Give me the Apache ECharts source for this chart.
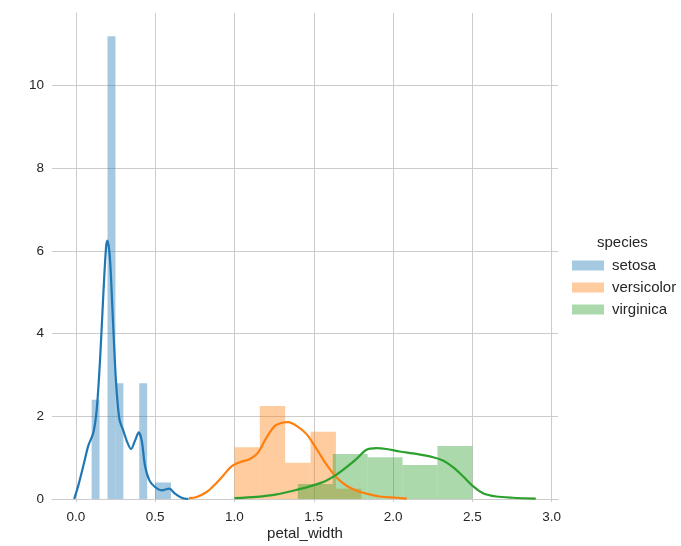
<!DOCTYPE html>
<html lang="en">
<head>
    <meta charset="UTF-8">
    <title>petal_width by species</title>
    <script src="https://cdn.jsdelivr.net/npm/echarts@6/dist/echarts.min.js"></script>
    <style>
        html, body { margin: 0; padding: 0; background: #fff; }
        #chart { width: 681px; height: 546px; }
    </style>
</head>
<body>
    <div id="chart"></div>
    <script>
        // 分类
        var species = ['setosa', 'versicolor', 'virginica'];

        // 直方图：分箱边界和密度
        var setosaEdges = [0.10, 0.15, 0.20, 0.25, 0.30, 0.35, 0.40, 0.45, 0.50, 0.55, 0.60];
        var setosaHeights = [2.4, 0, 11.2, 2.8, 0, 0, 2.8, 0, 0.4, 0.4];
        var versicolorEdges = [1.00, 1.16, 1.32, 1.48, 1.64, 1.80];
        var versicolorHeights = [1.25, 2.25, 0.88, 1.63, 0.25];
        var virginicaEdges = [1.40, 1.62, 1.84, 2.06, 2.28, 2.50];
        var virginicaHeights = [0.36, 1.09, 1.01, 0.82, 1.28];

        // 核密度曲线（从图上读出的点）
        var setosaKdeX = [-0.01, 0.016, 0.048, 0.079, 0.111, 0.132, 0.153, 0.174, 0.191, 0.200, 0.216, 0.233, 0.254, 0.275, 0.300, 0.325, 0.348, 0.373, 0.397, 0.416, 0.436, 0.464, 0.499, 0.541, 0.589, 0.625, 0.667, 0.710];
        var setosaKdeY = [0.00, 0.33, 0.81, 1.29, 1.61, 2.17, 3.37, 4.98, 6.10, 6.25, 5.78, 4.42, 2.81, 1.93, 1.65, 1.37, 1.21, 1.41, 1.61, 1.41, 0.81, 0.45, 0.29, 0.21, 0.25, 0.13, 0.03, 0.00];
        var versicolorKdeX = [0.713, 0.762, 0.825, 0.877, 0.930, 0.982, 1.035, 1.098, 1.150, 1.203, 1.255, 1.307, 1.339, 1.392, 1.455, 1.518, 1.581, 1.644, 1.707, 1.770, 1.833, 1.916, 2.021, 2.087];
        var versicolorKdeY = [0.02, 0.05, 0.17, 0.35, 0.57, 0.79, 0.89, 0.97, 1.13, 1.49, 1.77, 1.85, 1.86, 1.77, 1.57, 1.21, 0.83, 0.52, 0.32, 0.20, 0.13, 0.06, 0.03, 0.01];
        var virginicaKdeX = [1.000, 1.140, 1.266, 1.392, 1.496, 1.581, 1.644, 1.707, 1.770, 1.833, 1.895, 1.958, 2.042, 2.147, 2.252, 2.315, 2.378, 2.441, 2.504, 2.567, 2.651, 2.756, 2.900];
        var virginicaKdeY = [0.02, 0.05, 0.11, 0.22, 0.33, 0.45, 0.59, 0.77, 0.97, 1.19, 1.23, 1.21, 1.15, 1.09, 1.01, 0.93, 0.77, 0.55, 0.31, 0.14, 0.06, 0.03, 0.01];

        // 坐标轴刻度
        var xTicks = [0.0, 0.5, 1.0, 1.5, 2.0, 2.5, 3.0];
        var yTicks = [0, 2, 4, 6, 8, 10];

        var lineColors = ['#1f77b4', '#ff7f0e', '#2ca02c'];
        var barColors = ['rgba(31,119,180,0.4)', 'rgba(255,127,14,0.4)', 'rgba(44,160,44,0.4)'];
        var textColor = '#262626';
        var gridColor = '#cccccc';
        var font = '"Liberation Sans", Arial, sans-serif';

        function toBins(edges, heights) {
            var out = [];
            for (var i = 0; i < heights.length; i++) {
                out.push([edges[i], edges[i + 1], heights[i]]);
            }
            return out;
        }

        function toPoints(xs, ys) {
            var out = [];
            for (var i = 0; i < xs.length; i++) {
                out.push([xs[i], ys[i]]);
            }
            return out;
        }

        function renderHist(params, api) {
            var h = api.value(2);
            if (!h) return;
            var p0 = api.coord([api.value(0), h]);
            var p1 = api.coord([api.value(1), 0]);
            return {
                type: 'rect',
                shape: { x: p0[0], y: p0[1], width: p1[0] - p0[0], height: p1[1] - p0[1] },
                style: { fill: api.visual('color') }
            };
        }

        var bins = [
            toBins(setosaEdges, setosaHeights),
            toBins(versicolorEdges, versicolorHeights),
            toBins(virginicaEdges, virginicaHeights)
        ];
        var kdes = [
            toPoints(setosaKdeX, setosaKdeY),
            toPoints(versicolorKdeX, versicolorKdeY),
            toPoints(virginicaKdeX, virginicaKdeY)
        ];

        var series = [];
        for (var i = 0; i < species.length; i++) {
            series.push({
                name: species[i],
                type: 'custom',
                xAxisIndex: 0,
                yAxisIndex: 0,
                renderItem: renderHist,
                itemStyle: { color: barColors[i] },
                encode: { x: [0, 1], y: 2 },
                data: bins[i]
            });
            series.push({
                name: species[i] + ' kde',
                type: 'line',
                xAxisIndex: 0,
                yAxisIndex: 0,
                smooth: 0.3,
                showSymbol: false,
                lineStyle: { color: lineColors[i], width: 2.2 },
                itemStyle: { color: lineColors[i] },
                data: kdes[i]
            });
        }

        var myChart = echarts.init(document.getElementById('chart'));

        var option = {
            animation: false,
            backgroundColor: '#ffffff',
            textStyle: { fontFamily: font, color: textColor },
            grid: [
                // 数据区域
                { left: 52, right: 123, top: 13, bottom: 44 },
                // x 轴刻度和竖网格线（0 和 3.0 对齐数据区域）
                { left: 75.8, right: 129.3, top: 13, bottom: 44 }
            ],
            xAxis: [
                {
                    type: 'value',
                    gridIndex: 0,
                    min: -0.15,
                    max: 3.04,
                    axisLine: { show: true, lineStyle: { color: gridColor, width: 1 } },
                    axisTick: { show: false },
                    axisLabel: { show: false },
                    splitLine: { show: false },
                    name: 'petal_width',
                    nameLocation: 'middle',
                    nameGap: 27,
                    nameTextStyle: { fontSize: 15, color: textColor, fontFamily: font }
                },
                {
                    type: 'value',
                    gridIndex: 1,
                    min: xTicks[0],
                    max: xTicks[xTicks.length - 1],
                    interval: 0.5,
                    axisLine: { show: false },
                    axisTick: { show: false },
                    axisLabel: {
                        margin: 8,
                        fontSize: 13.5,
                        color: textColor,
                        fontFamily: font,
                        formatter: function (v) { return v.toFixed(1); }
                    },
                    splitLine: { show: true, lineStyle: { color: gridColor, width: 1 } }
                }
            ],
            yAxis: [
                {
                    type: 'value',
                    gridIndex: 0,
                    min: yTicks[0],
                    max: 11.76,
                    interval: 2,
                    axisLine: { show: true, lineStyle: { color: gridColor, width: 1 } },
                    axisTick: { show: false },
                    axisLabel: {
                        margin: 8,
                        fontSize: 13.5,
                        color: textColor,
                        fontFamily: font,
                        showMaxLabel: false
                    },
                    splitLine: {
                        show: true,
                        showMaxLine: false,
                        lineStyle: { color: gridColor, width: 1 }
                    }
                },
                {
                    type: 'value',
                    gridIndex: 1,
                    min: 0,
                    max: 1,
                    show: false
                }
            ],
            legend: {
                orient: 'vertical',
                left: 567,
                top: 253,
                icon: 'rect',
                itemWidth: 32,
                itemHeight: 10,
                itemGap: 7,
                selectedMode: false,
                textStyle: { fontSize: 15, color: textColor, fontFamily: font, padding: [0, 0, 0, 3] },
                data: species.map(function (s, i) {
                    return { name: s, itemStyle: { color: barColors[i] } };
                })
            },
            graphic: [{
                type: 'text',
                left: 597,
                top: 235,
                style: { text: 'species', font: '15px ' + font, fill: textColor }
            }],
            series: series
        };

        myChart.setOption(option);
    </script>
</body>
</html>
